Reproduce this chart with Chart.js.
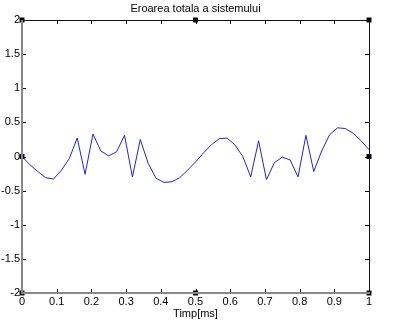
<!DOCTYPE html>
<html>
<head>
<meta charset="utf-8">
<script src="https://cdn.jsdelivr.net/npm/chart.js@4/dist/chart.umd.min.js"></script>
<style>
  html, body { margin: 0; padding: 0; background: #fff; }
</style>
</head>
<body>
<canvas id="myChart" width="400" height="324"></canvas>
<script>
// timp [ms] si eroarea
const times = [0, 0.0227, 0.0455, 0.0682, 0.0909, 0.1136, 0.1364, 0.1591, 0.1818, 0.2045,
  0.2273, 0.25, 0.2727, 0.2955, 0.3182, 0.3409, 0.3636, 0.3864, 0.4091, 0.4318,
  0.4545, 0.4773, 0.5, 0.5227, 0.5455, 0.5682, 0.5909, 0.6136, 0.6364, 0.6591,
  0.6818, 0.7045, 0.7273, 0.75, 0.7727, 0.7955, 0.8182, 0.8409, 0.8636, 0.8864,
  0.9091, 0.9318, 0.9545, 0.9773, 1];
const errors = [0, -0.12, -0.22, -0.31, -0.33, -0.2, -0.03, 0.27, -0.26, 0.33,
  0.08, 0.01, 0.07, 0.31, -0.3, 0.25, -0.1, -0.32, -0.38, -0.37,
  -0.31, -0.2, -0.08, 0.05, 0.17, 0.26, 0.27, 0.17, 0, -0.3,
  0.23, -0.34, -0.09, -0.01, -0.05, -0.3, 0.31, -0.22, 0.08, 0.32,
  0.42, 0.41, 0.34, 0.23, 0.1];

// little black squares on the frame
const markerX = [0, 0.5, 1, 0, 1, 0, 0.5, 1];
const markerY = [2, 2, 2, 0, 0, -2, -2, -2];

const xTickLabels = ['0', '0.1', '0.2', '0.3', '0.4', '0.5', '0.6', '0.7', '0.8', '0.9', '1'];
const yTickLabels = ['-2', '-1.5', '-1', '-0.5', '0', '0.5', '1', '1.5', '2'];

const font = { family: 'Liberation Sans, Arial, sans-serif', size: 11 };

const framePlugin = {
  id: 'frame',
  afterDatasetsDraw(chart) {
    const { ctx, chartArea: a, scales } = chart;
    const t = 4;
    ctx.save();
    // ticks inward, all four sides
    ctx.lineWidth = 1;
    ctx.strokeStyle = '#000';
    scales.x.ticks.forEach((tk) => {
      const px = Math.round(scales.x.getPixelForValue(tk.value)) + 0.5;
      ctx.beginPath();
      ctx.moveTo(px, a.bottom); ctx.lineTo(px, a.bottom - t);
      ctx.moveTo(px, a.top); ctx.lineTo(px, a.top + t);
      ctx.stroke();
    });
    scales.y.ticks.forEach((tk) => {
      const py = Math.round(scales.y.getPixelForValue(tk.value)) + 0.5;
      ctx.beginPath();
      ctx.moveTo(a.left, py); ctx.lineTo(a.left + t, py);
      ctx.moveTo(a.right, py); ctx.lineTo(a.right - t, py);
      ctx.stroke();
    });
    // box
    ctx.strokeStyle = '#111';
    ctx.beginPath();
    ctx.moveTo(a.left, a.top + 0.5); ctx.lineTo(a.right, a.top + 0.5);
    ctx.moveTo(a.right + 0.5, a.top); ctx.lineTo(a.right + 0.5, a.bottom);
    ctx.stroke();
    ctx.strokeStyle = '#888';
    ctx.lineWidth = 2;
    ctx.beginPath();
    ctx.moveTo(a.left, a.top); ctx.lineTo(a.left, a.bottom);
    ctx.lineTo(a.right + 1, a.bottom);
    ctx.stroke();
    ctx.restore();
  }
};

const ctx = document.getElementById('myChart');

new Chart(ctx, {
  type: 'line',
  data: {
    datasets: [{
      label: 'eroare',
      data: times.map((t, i) => ({ x: t, y: errors[i] })),
      borderColor: '#2020e0',
      borderWidth: 1,
      pointRadius: 0,
      tension: 0,
      fill: false
    }, {
      label: 'markers',
      type: 'scatter',
      data: markerX.map((x, i) => ({ x: x, y: markerY[i] })),
      pointStyle: 'rect',
      pointRadius: 3.5,
      backgroundColor: '#000',
      borderColor: '#000',
      borderWidth: 0,
      clip: false
    }]
  },
  options: {
    responsive: false,
    animation: false,
    layout: { padding: { top: 0, left: 0, right: 31, bottom: 0 } },
    plugins: {
      legend: { display: false },
      tooltip: { enabled: false },
      title: {
        display: true,
        text: 'Eroarea totala a sistemului',
        color: '#000',
        font: { ...font, weight: 'normal' },
        fullSize: false,
        padding: { top: 2, bottom: 4.8 }
      }
    },
    scales: {
      x: {
        type: 'linear',
        min: 0,
        max: 1,
        ticks: {
          stepSize: 0.1,
          color: '#000',
          font: font,
          padding: 2,
          maxRotation: 0,
          autoSkip: false,
          callback: (v, i) => xTickLabels[i]
        },
        grid: { display: false, drawTicks: false },
        border: { display: false },
        title: {
          display: true,
          text: 'Timp[ms]',
          color: '#000',
          font: font,
          padding: { top: 0, bottom: 3 }
        },
        afterFit: (s) => { s.height = 31; }
      },
      y: {
        min: -2,
        max: 2,
        ticks: {
          stepSize: 0.5,
          color: '#000',
          font: font,
          padding: 2,
          callback: (v, i) => yTickLabels[i]
        },
        grid: { display: false, drawTicks: false },
        border: { display: false },
        afterFit: (s) => { s.width = 22; }
      }
    }
  },
  plugins: [framePlugin]
});
</script>
</body>
</html>
